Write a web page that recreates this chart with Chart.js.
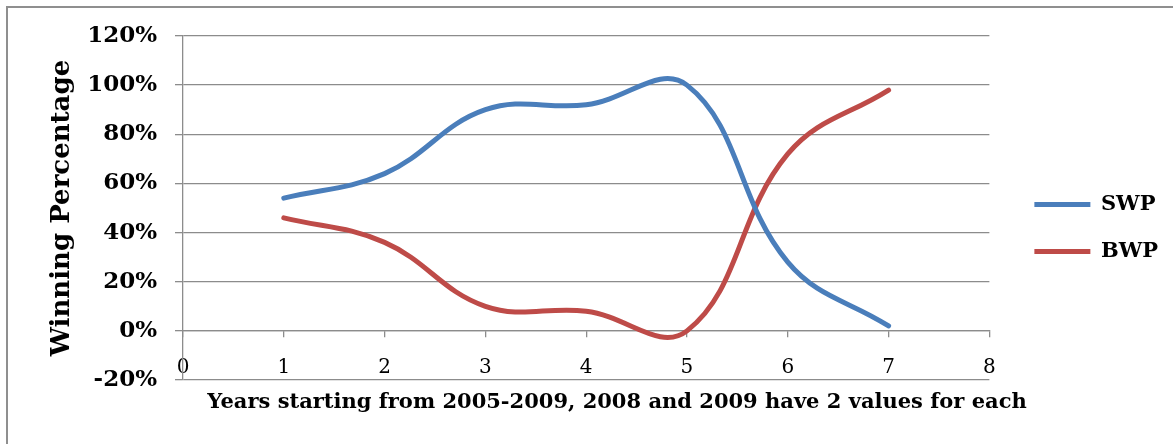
<!DOCTYPE html>
<html>
<head>
<meta charset="utf-8">
<title>Winning Percentage</title>
<script src="https://cdn.jsdelivr.net/npm/chart.js@4.4.1/dist/chart.umd.min.js"></script>
<style>
  html, body { margin: 0; padding: 0; background: #fff; overflow: hidden; }
  #frame { position: absolute; left: 6px; top: 6px; width: 1300px; height: 600px; border: 2px solid #8f8f8f; }
  #wrap { position: absolute; left: 0; top: 0; width: 1173px; height: 444px; }
</style>
</head>
<body>
<div id="frame"></div>
<div id="wrap"><canvas id="chart"></canvas></div>
<script>
// values (percent)
const YEARS = [1, 2, 3, 4, 5, 6, 7];
const SWP = [54, 64, 90, 92, 100, 28, 2];
const BWP = [46, 36, 10, 8, 0, 72, 98];
const SERIES = ["SWP", "BWP"];
const COLORS = ["#4A7EBB", "#BE4B48"];
const Y_TITLE = "Winning Percentage";
const X_TITLE = "Years starting from 2005-2009, 2008 and 2009 have 2 values for each";

const GRID = "#8c8c8c";
const SERIF = '"DejaVu Serif", "Liberation Serif", serif';

const toPoints = vals => YEARS.map((x, i) => ({ x, y: vals[i] }));

/** x axis title sits below the -20% line, centred like the original */
const xTitlePlugin = {
  id: "xTitle",
  afterDraw(chart) {
    const { ctx } = chart;
    ctx.save();
    ctx.font = "bold 21px " + SERIF;
    ctx.fillStyle = "#000";
    ctx.textAlign = "center";
    ctx.textBaseline = "alphabetic";
    ctx.fillText(X_TITLE, 617, 408);
    ctx.restore();
  }
};

function lineSet(label, vals, color) {
  return {
    label,
    data: toPoints(vals),
    borderColor: color,
    backgroundColor: color,
    borderWidth: 5,
    borderCapStyle: "round",
    pointRadius: 0,
    tension: 0.4,
    fill: false
  };
}

new Chart(document.getElementById("chart"), {
  type: "line",
  data: {
    datasets: [
      lineSet(SERIES[0], SWP, COLORS[0]),
      lineSet(SERIES[1], BWP, COLORS[1])
    ]
  },
  plugins: [xTitlePlugin],
  options: {
    responsive: true,
    maintainAspectRatio: false,
    animation: false,
    layout: { padding: { top: 36, right: 5, bottom: 64, left: 0 } },
    plugins: {
      tooltip: { enabled: false },
      legend: {
        position: "right",
        align: "center",
        title: { display: true, text: "", padding: { top: 39, bottom: 0 }, font: { size: 1 } },
        labels: {
          usePointStyle: true,
          pointStyle: "line",
          pointStyleWidth: 56,
          padding: 26,
          color: "#000",
          font: { family: SERIF, weight: "bold", size: 21 }
        }
      }
    },
    scales: {
      x: {
        type: "linear",
        position: { y: 0 },
        min: 0,
        max: 8,
        ticks: { stepSize: 1, padding: 19, color: "#000",
          font: { family: SERIF, size: 20 } },
        grid: { drawOnChartArea: false, drawTicks: true, tickLength: 6,
          color: GRID, lineWidth: 1.3 },
        border: { display: true, color: GRID, width: 1.3 }
      },
      y: {
        min: -20,
        max: 120,
        ticks: { stepSize: 20, padding: 18, color: "#000",
          font: { family: SERIF, weight: "bold", size: 23 },
          callback: v => v + "%" },
        grid: { color: GRID, lineWidth: 1.3, tickLength: 8 },
        border: { display: true, color: GRID, width: 1.3 },
        title: { display: true, text: Y_TITLE, color: "#000",
          font: { family: SERIF, weight: "bold", size: 26 },
          padding: { top: 47, bottom: 0 } },
        afterFit(scale) { scale.width = 183; }
      },
      // spacer between plot and legend
      yGap: {
        position: "right",
        display: true,
        grid: { display: false },
        ticks: { display: false },
        border: { display: false },
        afterFit(scale) { scale.width = 19; }
      }
    }
  }
});
</script>
</body>
</html>
